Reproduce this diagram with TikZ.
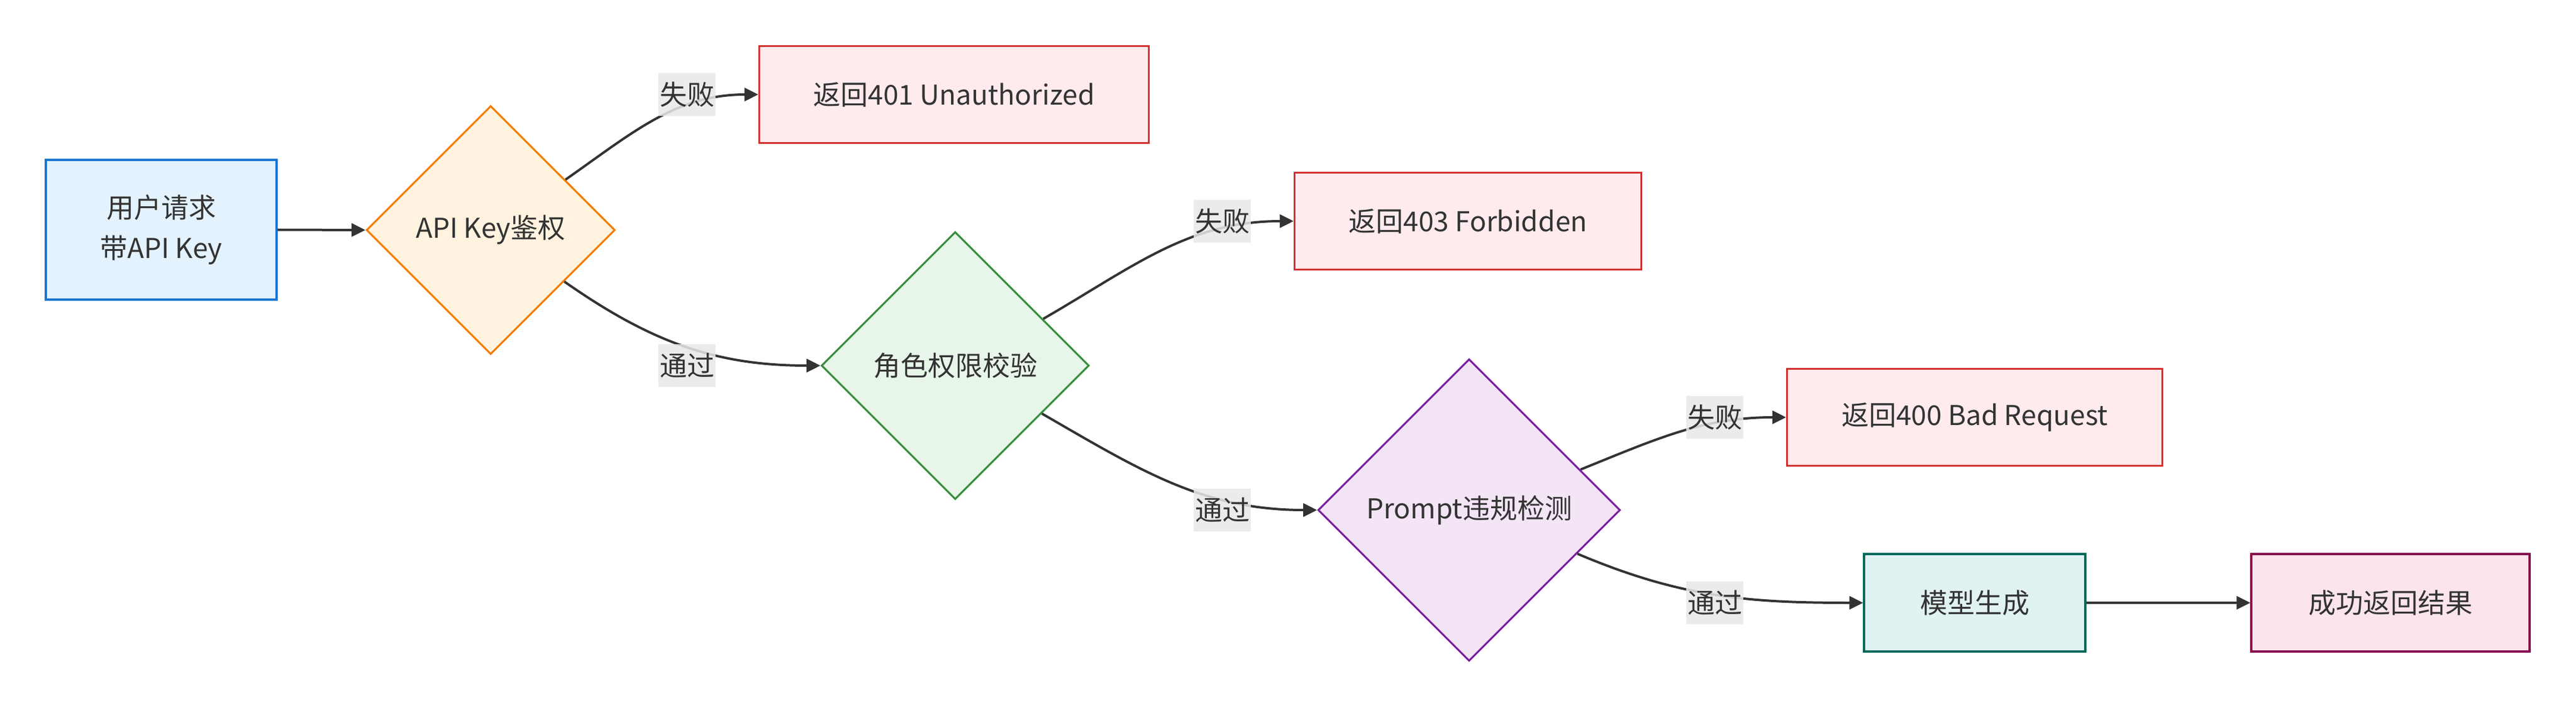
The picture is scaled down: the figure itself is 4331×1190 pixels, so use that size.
\documentclass[tikz,border=0pt]{standalone}
\usepackage{fontspec}
\setmainfont{Noto Sans CJK SC}
\usetikzlibrary{shapes.geometric,arrows.meta}

\definecolor{ink}{HTML}{333333}
\definecolor{reqfill}{HTML}{E3F2FD}
\definecolor{reqline}{HTML}{1976D2}
\definecolor{authfill}{HTML}{FFF3E0}
\definecolor{authline}{HTML}{F57C00}
\definecolor{rolefill}{HTML}{E8F5E9}
\definecolor{roleline}{HTML}{388E3C}
\definecolor{promptfill}{HTML}{F3E5F5}
\definecolor{promptline}{HTML}{7B1FA2}
\definecolor{errfill}{HTML}{FFEBEE}
\definecolor{errline}{HTML}{D32F2F}
\definecolor{genfill}{HTML}{E0F2F1}
\definecolor{genline}{HTML}{00695C}
\definecolor{okfill}{HTML}{FCE4EC}
\definecolor{okline}{HTML}{880E4F}
\definecolor{lblgray}{HTML}{E8E8E8}

\begin{document}
\begin{tikzpicture}[
  x=0.25pt,
  y=0.25pt,
  every node/.style={
    text=ink,
    font=\fontsize{11.5}{17}\selectfont
  },
  box/.style={
    draw,
    rectangle,
    line width=0.8pt,
    inner sep=0pt,
    align=center
  },
  check/.style={
    draw,
    diamond,
    line width=0.8pt,
    inner sep=0pt
  },
  errbox/.style={
    box,
    draw=errline,
    fill=errfill,
    minimum height=40.75pt
  },
  lbl/.style={
    fill=lblgray,
    fill opacity=0.85,
    text opacity=1,
    inner xsep=0.5pt,
    inner ysep=0pt,
    minimum height=18pt
  },
  flow/.style={
    draw=ink,
    line width=1pt,
    -{Triangle[length=5.8pt,width=5.5pt]}
  },
]
\useasboundingbox (0,0) rectangle (4331,1190);

% nodes
\node[box, draw=reqline, fill=reqfill, minimum width=97pt, minimum height=58.75pt]
  (req) at (271,803.5) {用户请求\\带API Key};
\node[check, draw=authline, fill=authfill, minimum width=104.5pt, minimum height=104.5pt]
  (auth) at (825,803) {API Key鉴权};
\node[errbox, minimum width=163.75pt] (e401) at (1604,1031) {返回401 Unauthorized};
\node[check, draw=roleline, fill=rolefill, minimum width=112.5pt, minimum height=112.5pt]
  (role) at (1606,575) {角色权限校验};
\node[errbox, minimum width=145.75pt] (e403) at (2468,818) {返回403 Forbidden};
\node[check, draw=promptline, fill=promptfill, minimum width=127pt, minimum height=127pt]
  (prompt) at (2470,332) {Prompt违规检测};
\node[errbox, minimum width=157.75pt] (e400) at (3320,488) {返回400 Bad Request};
\node[box, draw=genline, fill=genfill, minimum width=93pt, minimum height=41pt]
  (gen) at (3320,176) {模型生成};
\node[box, draw=okline, fill=okfill, minimum width=117pt, minimum height=41pt]
  (ok) at (4019,176) {成功返回结果};

% edges
\draw[flow] (req.east) -- (auth.west);
\draw[flow] (auth.34) to[out=35,in=180] (e401.west);
\draw[flow] (auth.-35) to[out=-35,in=180] (role.west);
\draw[flow] (role.28) to[out=30,in=180] (e403.west);
\draw[flow] (role.-29) to[out=-30,in=180] (prompt.west);
\draw[flow] (prompt.20) to[out=22,in=180] (e400.west);
\draw[flow] (prompt.-22) to[out=-23,in=180] (gen.west);
\draw[flow] (gen.east) -- (ok.west);

% labels
\node[lbl] (l1) at (1155,1031) {失败};
\node[lbl] (l2) at (1155,575) {通过};
\node[lbl] (l3) at (2055,818) {失败};
\node[lbl] (l4) at (2055,332) {通过};
\node[lbl] (l5) at (2883,488) {失败};
\node[lbl] (l6) at (2883,176) {通过};
\end{tikzpicture}
\end{document}
